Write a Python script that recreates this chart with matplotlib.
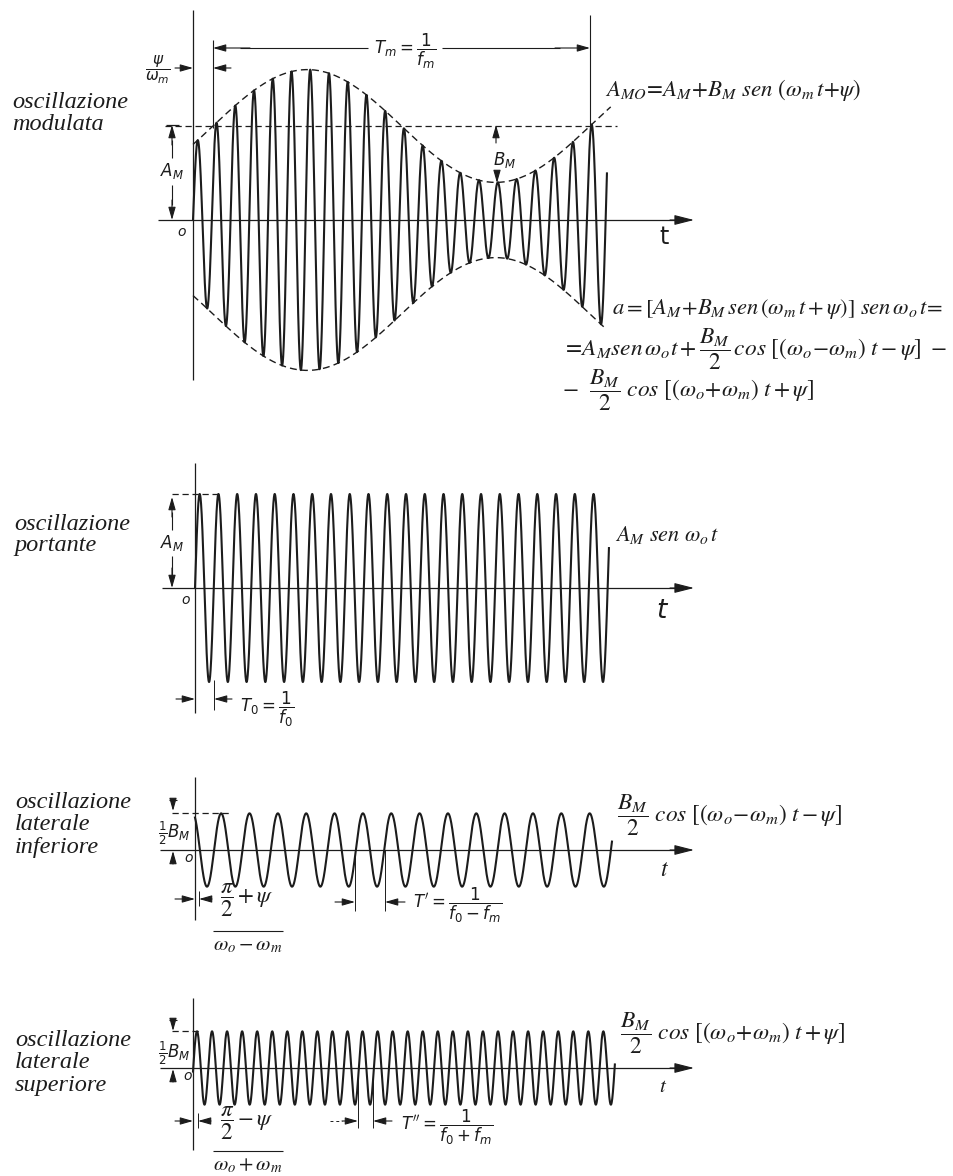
import numpy as np
import matplotlib
matplotlib.use("Agg")
import matplotlib.pyplot as plt

plt.rcParams["font.family"] = ["Liberation Serif", "DejaVu Serif"]
plt.rcParams["mathtext.fontset"] = "stix"

# --- signal parameters ---
# time in modulation periods T_m, amplitude in units of A_M
A_M = 1.0
B_M = 0.6
F_CARRIER = 20.1      # carrier cycles per T_m
F_LOWER = 13.3        # lower side oscillation cycles per T_m (as drawn)
F_UPPER = 25.05       # upper side oscillation cycles per T_m (as drawn)
SIDE_AMP = 0.39       # drawn amplitude of the side oscillations
PSI_DELAY = 0.053     # psi / omega_m, in T_m
LOWER_PHASE = 0.484   # rad
UPPER_DELAY = 0.0106  # in T_m
T_END = [1.098, 1.098, 1.106, 1.119]
ENV_END = [1.108, 1.095]  # upper / lower envelope dashed ends

PANEL_LABELS = ["oscillazione\nmodulata", "oscillazione\nportante",
                "oscillazione\nlaterale\ninferiore", "oscillazione\nlaterale\nsuperiore"]

# --- layout (pixels) ---
W, H = 954, 1176
PX_T = 377.0
PX_A = 94.0
ORIGINS = [(193, 220), (195, 588), (195, 850), (193, 1068)]
INK = "#1c1c1c"

fig = plt.figure(figsize=(W / 100, H / 100), dpi=100, facecolor="white")
ax = fig.add_axes([0, 0, 1, 1])
ax.set_xlim(0, W)
ax.set_ylim(H, 0)
ax.axis("off")


def wave_axes(x0, y0):
    a = fig.add_axes([0, 0, 1, 1])
    a.set_xlim(-x0 / PX_T, (W - x0) / PX_T)
    a.set_ylim(-(H - y0) / PX_A, y0 / PX_A)
    a.axis("off")
    a.patch.set_alpha(0)
    return a


def arrow(x1, y1, x2, y2, big=False):
    style = "-|>,head_length=1.1,head_width=0.28" if big else "-|>,head_length=0.7,head_width=0.2"
    ax.annotate("", xy=(x2, y2), xytext=(x1, y1),
                arrowprops=dict(arrowstyle=style, color=INK, lw=0.8,
                                shrinkA=0, shrinkB=0, mutation_scale=11))


def line(xs, ys, lw=0.9, ls="-"):
    ax.plot(xs, ys, color=INK, lw=lw, ls=ls, solid_capstyle="butt")


sans = dict(math_fontfamily="dejavusans", color=INK)
serif = dict(math_fontfamily="stix", color=INK)

# panel labels
label_pos = [(12, [102, 125]), (14, [524, 546]), (15, [803, 825, 848]), (15, [1040, 1062, 1085])]
for text, (lx, ys) in zip(PANEL_LABELS, label_pos):
    for part, yy in zip(text.split("\n"), ys):
        ax.text(lx, yy, part, fontsize=17.5, style="italic", va="center", ha="left", color=INK)

# axes of the four panels
axis_spans = [(10, 380, 158), (463, 713, 162), (777, 920, 160), (998, 1150, 160)]
for (x0, y0), (vt, vb, hl) in zip(ORIGINS, axis_spans):
    line([x0, x0], [vt, vb], lw=0.9)
    line([hl, 680], [y0, y0], lw=0.9)
    arrow(670, y0, 694, y0, big=True)

# --- panel 1: modulated oscillation ---
a1 = wave_axes(*ORIGINS[0])
t = np.linspace(0, T_END[0], 6000)
env = A_M + B_M * np.sin(2 * np.pi * (t - PSI_DELAY))
a1.plot(t, env * np.sin(2 * np.pi * F_CARRIER * t), color=INK, lw=1.5)
te = np.linspace(0, ENV_END[0], 400)
a1.plot(te, A_M + B_M * np.sin(2 * np.pi * (te - PSI_DELAY)), color=INK, lw=1.0, ls=(0, (5, 3)))
te = np.linspace(0, ENV_END[1], 400)
a1.plot(te, -(A_M + B_M * np.sin(2 * np.pi * (te - PSI_DELAY))), color=INK, lw=1.0, ls=(0, (5, 3)))
a1.plot([-0.075, 1.125], [A_M, A_M], color=INK, lw=0.9, ls=(0, (5, 3)))

line([213, 213], [40, 128], lw=0.8)
line([590, 590], [15, 125], lw=0.8)
line([240, 368], [48, 48], lw=0.8)
line([442, 560], [48, 48], lw=0.8)
arrow(250, 48, 213, 48)
arrow(555, 48, 590, 48)
ax.text(405, 51, r"$T_m = \dfrac{1}{f_m}$", fontsize=12, ha="center", va="center", **sans)
ax.text(158, 70, r"$\dfrac{\psi}{\omega_m}$", fontsize=11, ha="center", va="center", **sans)
arrow(175, 68, 193, 68)
arrow(231, 68, 213, 68)
line([166, 179], [125, 125], lw=0.9)
line([172, 172], [140, 158], lw=0.8)
line([172, 172], [185, 205], lw=0.8)
arrow(172, 145, 172, 125)
arrow(172, 200, 172, 220)
ax.text(172, 171, r"$A_M$", fontsize=12, ha="center", va="center", **sans)
ax.text(182, 232, r"$o$", fontsize=10, ha="center", va="center", **sans)
arrow(496, 143, 496, 125)
arrow(497, 172, 497, 183)
ax.text(505, 160, r"$B_M$", fontsize=12, ha="center", va="center", **sans)
ax.text(664, 237, "t", fontsize=17, ha="center", va="center", family="DejaVu Sans", color=INK)

ax.text(605, 90, r"$A_{MO}\!=\!A_M\!+\!B_M\ sen\ (\omega_m\,t\!+\!\psi)$",
        fontsize=16.5, ha="left", va="center", **serif)
ax.text(612, 309, r"$a=[A_M\!+\!B_M\,sen\,(\omega_m\,t+\psi)]\ sen\,\omega_o\,t\!=$",
        fontsize=16.2, ha="left", va="center", **serif)
ax.text(562, 349, r"$=\!A_M sen\,\omega_o t+\dfrac{B_M}{2}\,cos\ [(\omega_o\!-\!\omega_m)\ t-\psi]\ -$",
        fontsize=16.8, ha="left", va="center", **serif)
ax.text(562, 390, r"$-\ \ \dfrac{B_M}{2}\ cos\ [(\omega_o\!+\!\omega_m)\ t+\psi]$",
        fontsize=16.8, ha="left", va="center", **serif)

# --- panel 2: carrier ---
a2 = wave_axes(*ORIGINS[1])
t = np.linspace(0, T_END[1], 6000)
a2.plot(t, A_M * np.sin(2 * np.pi * F_CARRIER * t), color=INK, lw=1.5)
a2.plot([-0.06, 0.072], [A_M, A_M], color=INK, lw=0.9, ls=(0, (5, 3)))
line([172, 172], [512, 530], lw=0.8)
line([172, 172], [556, 575], lw=0.8)
arrow(172, 517, 172, 497)
arrow(172, 568, 172, 588)
ax.text(172, 543, r"$A_M$", fontsize=12, ha="center", va="center", **sans)
ax.text(186, 600, r"$o$", fontsize=10, ha="center", va="center", **sans)
line([214, 214], [680, 710], lw=0.7)
arrow(176, 699, 195, 699)
arrow(232, 699, 214, 699)
ax.text(267, 709, r"$T_0 = \dfrac{1}{f_0}$", fontsize=12, ha="center", va="center", **sans)
ax.text(615, 535, r"$A_M\ sen\ \omega_o\, t$", fontsize=16, ha="left", va="center", **serif)
ax.text(663, 612, r"$t$", fontsize=19, ha="center", va="center", **sans)

# --- panel 3: lower side oscillation ---
a3 = wave_axes(*ORIGINS[2])
t = np.linspace(0, T_END[2], 5000)
a3.plot(t, SIDE_AMP * np.cos(2 * np.pi * F_LOWER * t + LOWER_PHASE), color=INK, lw=1.5)
a3.plot([-0.061, 0.098], [SIDE_AMP, SIDE_AMP], color=INK, lw=0.9, ls=(0, (5, 3)))
arrow(173, 800, 173, 811)
line([169, 177], [800, 800], lw=0.8)
arrow(173, 864, 173, 851)
ax.text(174, 833, r"$\frac{1}{2}B_M$", fontsize=12, ha="center", va="center", **sans)
ax.text(189, 859, r"$o$", fontsize=10, ha="center", va="center", **sans)
arrow(175, 899, 195, 899)
line([199, 199], [891, 906], lw=0.7)
arrow(212, 899, 199, 899)
ax.text(247, 900, r"$\dfrac{\pi}{2}+\psi$", fontsize=16.5, ha="center", va="center", **serif)
line([213, 283], [931, 931], lw=0.8)
ax.text(248, 946, r"$\omega_o-\omega_m$", fontsize=15, ha="center", va="center", **serif)
line([355, 355], [850, 911], lw=0.7)
line([385, 385], [850, 911], lw=0.7)
arrow(335, 902, 355, 902)
arrow(405, 902, 385, 902)
ax.text(458, 905, r"$T' = \dfrac{1}{f_0 - f_m}$", fontsize=12, ha="center", va="center", **sans)
ax.text(617, 815, r"$\dfrac{B_M}{2}\ cos\ [(\omega_o\!-\!\omega_m)\ t-\psi]$",
        fontsize=16.8, ha="left", va="center", **serif)
ax.text(665, 870, r"$t$", fontsize=17, ha="center", va="center", **serif)

# --- panel 4: upper side oscillation ---
a4 = wave_axes(*ORIGINS[3])
t = np.linspace(0, T_END[3], 6000)
a4.plot(t, SIDE_AMP * np.cos(2 * np.pi * F_UPPER * (t - UPPER_DELAY)), color=INK, lw=1.5)
a4.plot([-0.056, 0.019], [SIDE_AMP, SIDE_AMP], color=INK, lw=0.9, ls=(0, (5, 3)))
arrow(173, 1020, 173, 1031)
line([169, 177], [1020, 1020], lw=0.8)
arrow(173, 1082, 173, 1069)
ax.text(174, 1053, r"$\frac{1}{2}B_M$", fontsize=12, ha="center", va="center", **sans)
ax.text(188, 1076, r"$o$", fontsize=10, ha="center", va="center", **sans)
arrow(175, 1121, 193, 1121)
line([198, 198], [1113, 1128], lw=0.7)
arrow(211, 1121, 198, 1121)
ax.text(247, 1123, r"$\dfrac{\pi}{2}-\psi$", fontsize=16.5, ha="center", va="center", **serif)
line([213, 283], [1151, 1151], lw=0.8)
ax.text(248, 1166, r"$\omega_o+\omega_m$", fontsize=15, ha="center", va="center", **serif)
line([358, 358], [1068, 1128], lw=0.7)
line([373, 373], [1068, 1128], lw=0.7)
line([330, 342], [1121, 1121], lw=0.7, ls=(0, (3, 3)))
arrow(342, 1121, 358, 1121)
arrow(392, 1121, 373, 1121)
ax.text(447, 1127, r"$T'' = \dfrac{1}{f_0 + f_m}$", fontsize=12, ha="center", va="center", **sans)
ax.text(620, 1033, r"$\dfrac{B_M}{2}\ cos\ [(\omega_o\!+\!\omega_m)\ t+\psi]$",
        fontsize=16.8, ha="left", va="center", **serif)
ax.text(663, 1087, r"$t$", fontsize=15, ha="center", va="center", **serif)

fig.savefig("out.png", dpi=100, facecolor="white")
